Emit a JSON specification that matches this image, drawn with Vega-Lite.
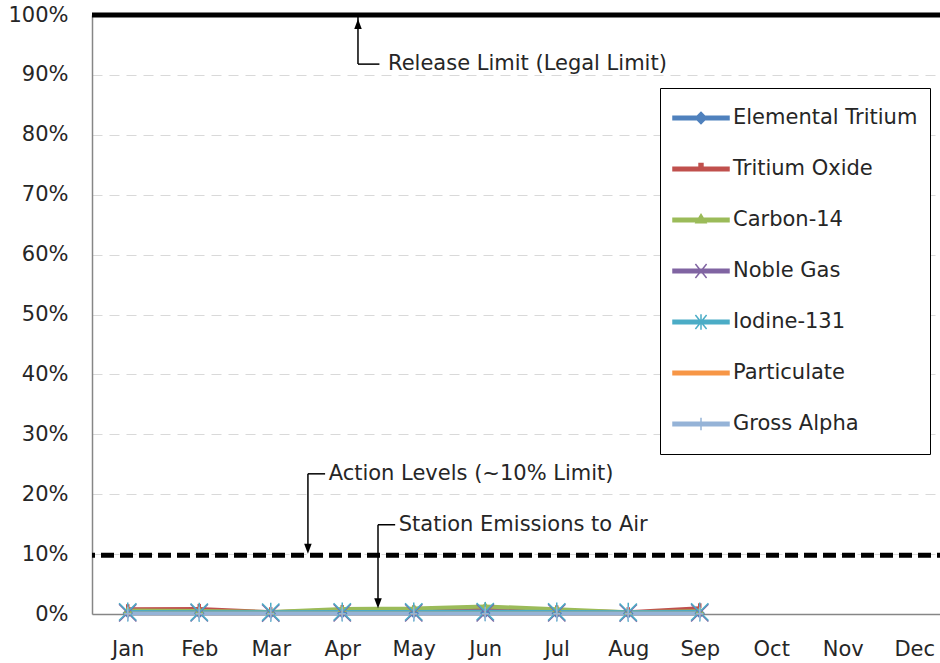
{
  "$schema": "https://vega.github.io/schema/vega-lite/v6.json",
  "width": 858,
  "height": 599,
  "autosize": {"type": "none"},
  "padding": {"left": 92, "top": 15, "right": 0, "bottom": 49},
  "background": "white",
  "config": {
    "view": {"stroke": null},
    "font": "DejaVu Sans",
    "axis": {"labelFont": "DejaVu Sans", "labelColor": "#262626", "labelFontSize": 21, "domainColor": "#868686", "domainWidth": 1.5, "ticks": false}
  },
  "datasets": {
    "emissions": [
      {"series": "Elemental Tritium", "m": 1, "v": 0.0015}, {"series": "Elemental Tritium", "m": 2, "v": 0.0012}, {"series": "Elemental Tritium", "m": 3, "v": 0.001}, {"series": "Elemental Tritium", "m": 4, "v": 0.0014}, {"series": "Elemental Tritium", "m": 5, "v": 0.0012}, {"series": "Elemental Tritium", "m": 6, "v": 0.0015}, {"series": "Elemental Tritium", "m": 7, "v": 0.0013}, {"series": "Elemental Tritium", "m": 8, "v": 0.001}, {"series": "Elemental Tritium", "m": 9, "v": 0.0012},
      {"series": "Tritium Oxide", "m": 1, "v": 0.008}, {"series": "Tritium Oxide", "m": 2, "v": 0.0085}, {"series": "Tritium Oxide", "m": 3, "v": 0.003}, {"series": "Tritium Oxide", "m": 4, "v": 0.0065}, {"series": "Tritium Oxide", "m": 5, "v": 0.006}, {"series": "Tritium Oxide", "m": 6, "v": 0.0075}, {"series": "Tritium Oxide", "m": 7, "v": 0.006}, {"series": "Tritium Oxide", "m": 8, "v": 0.003}, {"series": "Tritium Oxide", "m": 9, "v": 0.0095},
      {"series": "Carbon-14", "m": 1, "v": 0.006}, {"series": "Carbon-14", "m": 2, "v": 0.005}, {"series": "Carbon-14", "m": 3, "v": 0.0035}, {"series": "Carbon-14", "m": 4, "v": 0.0085}, {"series": "Carbon-14", "m": 5, "v": 0.009}, {"series": "Carbon-14", "m": 6, "v": 0.0125}, {"series": "Carbon-14", "m": 7, "v": 0.008}, {"series": "Carbon-14", "m": 8, "v": 0.003}, {"series": "Carbon-14", "m": 9, "v": 0.0045},
      {"series": "Noble Gas", "m": 1, "v": 0.002}, {"series": "Noble Gas", "m": 2, "v": 0.002}, {"series": "Noble Gas", "m": 3, "v": 0.0015}, {"series": "Noble Gas", "m": 4, "v": 0.002}, {"series": "Noble Gas", "m": 5, "v": 0.002}, {"series": "Noble Gas", "m": 6, "v": 0.002}, {"series": "Noble Gas", "m": 7, "v": 0.002}, {"series": "Noble Gas", "m": 8, "v": 0.0015}, {"series": "Noble Gas", "m": 9, "v": 0.002},
      {"series": "Iodine-131", "m": 1, "v": 0.0035}, {"series": "Iodine-131", "m": 2, "v": 0.003}, {"series": "Iodine-131", "m": 3, "v": 0.003}, {"series": "Iodine-131", "m": 4, "v": 0.0035}, {"series": "Iodine-131", "m": 5, "v": 0.0035}, {"series": "Iodine-131", "m": 6, "v": 0.004}, {"series": "Iodine-131", "m": 7, "v": 0.0035}, {"series": "Iodine-131", "m": 8, "v": 0.003}, {"series": "Iodine-131", "m": 9, "v": 0.0035},
      {"series": "Particulate", "m": 1, "v": 0.0005}, {"series": "Particulate", "m": 2, "v": 0.0005}, {"series": "Particulate", "m": 3, "v": 0.0004}, {"series": "Particulate", "m": 4, "v": 0.0005}, {"series": "Particulate", "m": 5, "v": 0.0005}, {"series": "Particulate", "m": 6, "v": 0.0005}, {"series": "Particulate", "m": 7, "v": 0.0005}, {"series": "Particulate", "m": 8, "v": 0.0004}, {"series": "Particulate", "m": 9, "v": 0.0005},
      {"series": "Gross Alpha", "m": 1, "v": 0.0004}, {"series": "Gross Alpha", "m": 2, "v": 0.0004}, {"series": "Gross Alpha", "m": 3, "v": 0.0004}, {"series": "Gross Alpha", "m": 4, "v": 0.0004}, {"series": "Gross Alpha", "m": 5, "v": 0.0004}, {"series": "Gross Alpha", "m": 6, "v": 0.0004}, {"series": "Gross Alpha", "m": 7, "v": 0.0004}, {"series": "Gross Alpha", "m": 8, "v": 0.0004}, {"series": "Gross Alpha", "m": 9, "v": 0.0004}
    ],
    "limits": [
      {"name": "Release Limit", "v": 1.0, "dashed": false},
      {"name": "Action Level", "v": 0.098, "dashed": true}
    ],
    "leaders": [
      {"x": 4.22, "y": 1.0, "x2": 4.22, "y2": 0.918},
      {"x": 4.22, "y": 0.918, "x2": 4.52, "y2": 0.918},
      {"x": 3.52, "y": 0.234, "x2": 3.52, "y2": 0.105},
      {"x": 3.52, "y": 0.234, "x2": 3.76, "y2": 0.234},
      {"x": 4.5, "y": 0.149, "x2": 4.5, "y2": 0.015},
      {"x": 4.5, "y": 0.149, "x2": 4.74, "y2": 0.149}
    ],
    "heads": [
      {"x": 4.22, "y": 0.985, "dir": "up"},
      {"x": 3.52, "y": 0.109, "dir": "down"},
      {"x": 4.5, "y": 0.018, "dir": "down"}
    ],
    "labels": [
      {"x": 4.64, "y": 0.918, "text": "Release Limit (Legal Limit)"},
      {"x": 3.81, "y": 0.234, "text": "Action Levels (~10% Limit)"},
      {"x": 4.79, "y": 0.149, "text": "Station Emissions to Air"}
    ]
  },
  "layer": [
    {
      "data": {"values": [{"v": 0}]},
      "mark": {"type": "rule", "opacity": 0},
      "encoding": {
        "y": {"field": "v", "type": "quantitative", "scale": {"domain": [0, 1]},
          "axis": {"format": "%", "values": [0, 0.1, 0.2, 0.3, 0.4, 0.5, 0.6, 0.7, 0.8, 0.9, 1.0], "title": null, "labelPadding": 24, "grid": true, "gridColor": "#d9d9d9", "gridDash": [10, 7], "gridWidth": 1}}
      }
    },
    {
      "data": {"name": "emissions"},
      "mark": {"type": "line", "strokeWidth": 4, "clip": false},
      "encoding": {
        "x": {"field": "m", "type": "quantitative", "scale": {"domain": [0.5, 12.5], "nice": false, "zero": false},
          "axis": {"values": [1,2,3,4,5,6,7,8,9,10,11,12], "title": null, "grid": false, "labelPadding": 24,
            "labelExpr": "['Jan','Feb','Mar','Apr','May','Jun','Jul','Aug','Sep','Oct','Nov','Dec'][datum.value - 1]"}},
        "y": {"field": "v", "type": "quantitative"},
        "color": {"field": "series", "type": "nominal",
          "scale": {"domain": ["Elemental Tritium", "Tritium Oxide", "Carbon-14", "Noble Gas", "Iodine-131", "Particulate", "Gross Alpha"],
            "range": ["#4F81BD", "#C0504D", "#9BBB59", "#8064A2", "#4BACC6", "#F79646", "#95B3D7"]},
          "legend": {
            "title": null, "orient": "none", "legendX": 568, "legendY": 73,
            "direction": "vertical",
            "strokeColor": "#000000", "fillColor": "#ffffff", "padding": 12,
            "labelFont": "DejaVu Sans", "labelFontSize": 21, "labelColor": "#262626", "labelOffset": 3, "labelLimit": 300,
            "rowPadding": 15, "clipHeight": 36, "symbolSize": 3136, "symbolStrokeWidth": 1.5,
            "encode": {"symbols": {"update": {
              "shape": {"signal": "datum.value == 'Elemental Tritium' ? 'M-1,-0.06H1V0.06H-1ZM0,-0.2L0.2,0L0,0.2L-0.2,0Z' : datum.value == 'Tritium Oxide' ? 'M-1,-0.06H1V0.06H-1ZM-0.07,-0.2H0.07V0H-0.07Z' : datum.value == 'Carbon-14' ? 'M-1,-0.06H1V0.06H-1ZM0,-0.2L0.18,0.1H-0.18Z' : datum.value == 'Noble Gas' ? 'M-1,-0.06H1V0.06H-1ZM-0.2,-0.25L0.2,0.25M-0.2,0.25L0.2,-0.25' : datum.value == 'Iodine-131' ? 'M-1,-0.06H1V0.06H-1ZM-0.2,-0.25L0.2,0.25M-0.2,0.25L0.2,-0.25M0,-0.28V0.28' : datum.value == 'Particulate' ? 'M-1,-0.06H1V0.06H-1Z' : 'M-1,-0.06H1V0.06H-1ZM0,-0.22V0.22'"},
              "fill": {"scale": "color", "field": "value"},
              "stroke": {"scale": "color", "field": "value"},
              "strokeWidth": {"value": 1.5},
              "size": {"value": 3136}
            }}}
          }}
      }
    },
    {
      "data": {"name": "emissions"},
      "transform": [{"filter": "datum.series == 'Elemental Tritium'"}],
      "mark": {"type": "point", "filled": true, "opacity": 1, "clip": false, "size": 110, "color": "#4F81BD", "shape": "M0,-1L1,0L0,1L-1,0Z"},
      "encoding": {"x": {"field": "m", "type": "quantitative"}, "y": {"field": "v", "type": "quantitative"}}
    },
    {
      "data": {"name": "emissions"},
      "transform": [{"filter": "datum.series == 'Tritium Oxide'"}],
      "mark": {"type": "point", "filled": true, "opacity": 1, "clip": false, "size": 100, "color": "#C0504D", "shape": "M-0.35,-1H0.35V0H-0.35Z"},
      "encoding": {"x": {"field": "m", "type": "quantitative"}, "y": {"field": "v", "type": "quantitative"}}
    },
    {
      "data": {"name": "emissions"},
      "transform": [{"filter": "datum.series == 'Carbon-14'"}],
      "mark": {"type": "point", "filled": true, "opacity": 1, "clip": false, "size": 100, "color": "#9BBB59", "shape": "M0,-1L0.9,0.6H-0.9Z"},
      "encoding": {"x": {"field": "m", "type": "quantitative"}, "y": {"field": "v", "type": "quantitative"}}
    },
    {
      "data": {"name": "emissions"},
      "transform": [{"filter": "datum.series == 'Noble Gas'"}],
      "mark": {"type": "point", "filled": false, "opacity": 1, "clip": false, "size": 300, "strokeWidth": 1.5, "color": "#8064A2", "shape": "M-1,-1L1,1M-1,1L1,-1"},
      "encoding": {"x": {"field": "m", "type": "quantitative"}, "y": {"field": "v", "type": "quantitative"}}
    },
    {
      "data": {"name": "emissions"},
      "transform": [{"filter": "datum.series == 'Iodine-131'"}],
      "mark": {"type": "point", "filled": false, "opacity": 1, "clip": false, "size": 300, "strokeWidth": 1.5, "color": "#4BACC6", "shape": "M-1,-1L1,1M-1,1L1,-1M0,-1.1V1.1"},
      "encoding": {"x": {"field": "m", "type": "quantitative"}, "y": {"field": "v", "type": "quantitative"}}
    },
    {
      "data": {"name": "emissions"},
      "transform": [{"filter": "datum.series == 'Particulate'"}],
      "mark": {"type": "point", "filled": false, "opacity": 1, "clip": false, "size": 100, "strokeWidth": 1.5, "color": "#F79646", "shape": "M-0.6,0H0.6M0,-0.6V0.6"},
      "encoding": {"x": {"field": "m", "type": "quantitative"}, "y": {"field": "v", "type": "quantitative"}}
    },
    {
      "data": {"name": "emissions"},
      "transform": [{"filter": "datum.series == 'Gross Alpha'"}],
      "mark": {"type": "point", "filled": false, "opacity": 1, "clip": false, "size": 200, "strokeWidth": 1.5, "color": "#95B3D7", "shape": "M0,-1V1M-0.5,0H0.5"},
      "encoding": {"x": {"field": "m", "type": "quantitative"}, "y": {"field": "v", "type": "quantitative"}}
    },
    {
      "data": {"name": "limits"},
      "mark": {"type": "rule", "color": "#000000", "strokeWidth": 5},
      "encoding": {
        "y": {"field": "v", "type": "quantitative"},
        "strokeDash": {"field": "dashed", "type": "nominal", "legend": null, "scale": {"domain": [false, true], "range": [[1, 0], [13, 6]]}},
        "strokeWidth": {"field": "dashed", "type": "nominal", "legend": null, "scale": {"domain": [false, true], "range": [5, 4.5]}}
      }
    },
    {
      "data": {"name": "leaders"},
      "mark": {"type": "rule", "color": "#000000", "strokeWidth": 1.5},
      "encoding": {
        "x": {"field": "x", "type": "quantitative"},
        "y": {"field": "y", "type": "quantitative"},
        "x2": {"field": "x2"},
        "y2": {"field": "y2"}
      }
    },
    {
      "data": {"name": "heads"},
      "transform": [{"filter": "datum.dir == 'up'"}],
      "mark": {"type": "point", "filled": true, "color": "#000000", "opacity": 1, "size": 100, "shape": "M0,-1L0.75,1H-0.75Z"},
      "encoding": {
        "x": {"field": "x", "type": "quantitative"},
        "y": {"field": "y", "type": "quantitative"}
      }
    },
    {
      "data": {"name": "heads"},
      "transform": [{"filter": "datum.dir == 'down'"}],
      "mark": {"type": "point", "filled": true, "color": "#000000", "opacity": 1, "size": 100, "shape": "M0,1L0.75,-1H-0.75Z"},
      "encoding": {
        "x": {"field": "x", "type": "quantitative"},
        "y": {"field": "y", "type": "quantitative"}
      }
    },
    {
      "data": {"name": "labels"},
      "mark": {"type": "text", "align": "left", "baseline": "middle", "fontSize": 21, "font": "DejaVu Sans", "color": "#262626"},
      "encoding": {
        "x": {"field": "x", "type": "quantitative"},
        "y": {"field": "y", "type": "quantitative"},
        "text": {"field": "text"}
      }
    }
  ]
}
